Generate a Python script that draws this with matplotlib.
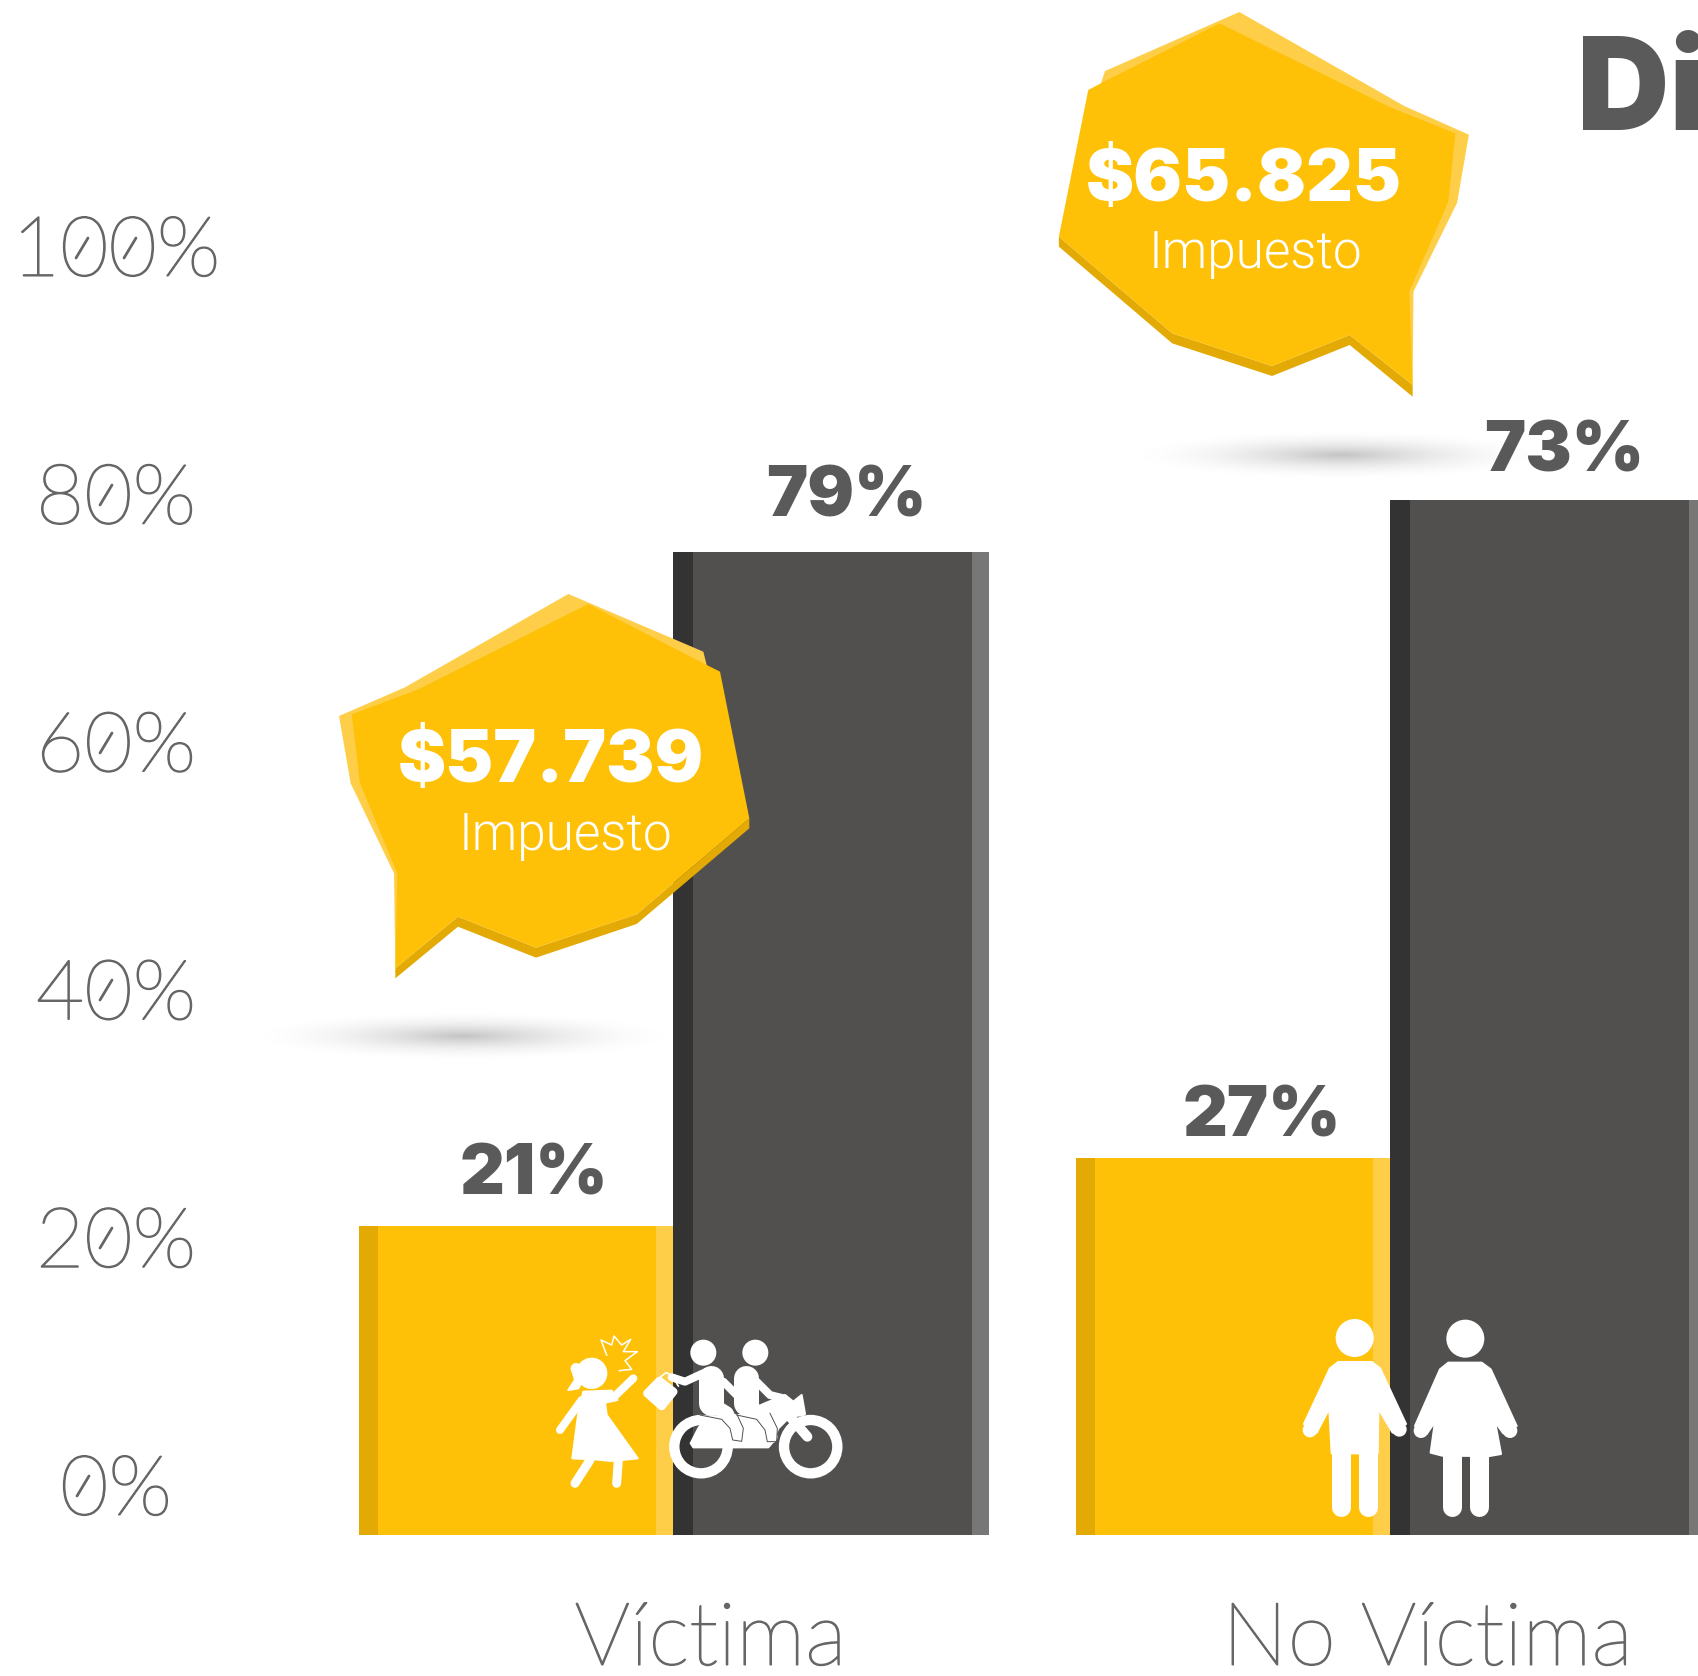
import numpy as np
import matplotlib
matplotlib.use('Agg')
import matplotlib.pyplot as plt
import matplotlib.patheffects as pe
from matplotlib.patches import Polygon, Circle
from matplotlib.transforms import ScaledTranslation

# data
categories = ['Víctima', 'No Víctima']
value_labels_yellow = ['21%', '27%']
value_labels_dark = ['79%', '73%']
# drawn bar heights, read against the axis (the picture does not draw them to scale)
heights_yellow = [24.9, 30.4]
heights_dark = [79.3, 83.5]
y_ticks = [0, 20, 40, 60, 80, 100]
y_tick_labels = ['0%', '20%', '40%', '60%', '80%', '100%']
bubble_values = ['$57.739', '$65.825']
bubble_label = 'Impuesto'
title_part = 'Di'

W, H = 1698, 1676
DPI = 100
px = 72.0 / DPI

YELLOW = '#FEC107'
YELLOW_D = '#E3A905'
YELLOW_L = '#FFCE49'
DARK = '#51504E'
DARK_D = '#333333'
DARK_L = '#777777'
TEXT = '#5A5A5A'
THIN = '#666666'

THIN_FONT = ['Lato', 'DejaVu Sans']
HEAVY_FONT = ['Inter', 'Lato', 'DejaVu Sans']
LIGHT_FONT = ['Roboto', 'DejaVu Sans']

thin_fx = [pe.withStroke(linewidth=1.1, foreground=THIN)]

fig = plt.figure(figsize=(W / DPI, H / DPI), dpi=DPI, facecolor='white')
ax = fig.add_axes([0, 0, 1, 1])

# axes span the whole figure, so the limits set the scale
base_px = 1535.0
unit_y = 12.39
unit_x = 717.0
zero_x = 672.5
ax.set_xlim(-zero_x / unit_x, (W - zero_x) / unit_x)
ax.set_ylim(-(H - base_px) / unit_y, base_px / unit_y)
for s in ax.spines.values():
    s.set_visible(False)
ax.patch.set_visible(False)

x = np.arange(len(categories))
bw = 314 / unit_x
bw2 = 316 / unit_x
sl = 19 / unit_x
sr = 17 / unit_x

ax.bar(x - bw, heights_yellow, bw, align='edge', color=YELLOW, zorder=2)
ax.bar(x - bw, heights_yellow, sl, align='edge', color=YELLOW_D, zorder=3)
ax.bar(x - sr, heights_yellow, sr, align='edge', color=YELLOW_L, zorder=3)
ax.bar(x, heights_dark, bw2, align='edge', color=DARK, zorder=2)
ax.bar(x, heights_dark, 20 / unit_x, align='edge', color=DARK_D, zorder=3)
ax.bar(x + bw2 - sr, heights_dark, sr, align='edge', color=DARK_L, zorder=3)

# value labels
dx_yellow = [18, 29]
dy_yellow = [50, 40]
dx_dark = [16, 17]
dy_dark = [54, 47]
for i in range(2):
    ax.annotate(value_labels_yellow[i], (x[i] - bw / 2, heights_yellow[i]),
                xytext=(dx_yellow[i] * px, dy_yellow[i] * px), textcoords='offset points',
                ha='center', va='center', fontsize=50, fontweight=900,
                family=HEAVY_FONT, color=TEXT, zorder=5)
    ax.annotate(value_labels_dark[i], (x[i] + bw2 / 2, heights_dark[i]),
                xytext=(dx_dark[i] * px, dy_dark[i] * px), textcoords='offset points',
                ha='center', va='center', fontsize=50, fontweight=900,
                family=HEAVY_FONT, color=TEXT, zorder=5)

# y axis labels sit above their tick position
ax.set_yticks(y_ticks)
ax.set_yticklabels(y_tick_labels, fontsize=60, fontweight=100, family=THIN_FONT, color=THIN, ha='center')
ax.tick_params(axis='y', length=0, pad=-116 * px)
ax.set_xticks(x)
ax.set_xticklabels(categories, fontsize=63, fontweight=100, family=THIN_FONT, color=THIN, va='center')
ax.tick_params(axis='x', length=0, pad=-35 * px)
for lab in ax.get_yticklabels():
    lab.set_transform(lab.get_transform() + ScaledTranslation(0, 50 / DPI, fig.dpi_scale_trans))
    lab.set_path_effects(thin_fx)
for lab in ax.get_xticklabels():
    lab.set_transform(lab.get_transform() + ScaledTranslation(38 / DPI, 0, fig.dpi_scale_trans))
    lab.set_path_effects(thin_fx)

# overlay in pixels for the infographic decoration
ov = fig.add_axes([0, 0, 1, 1])
ov.set_xlim(0, W)
ov.set_ylim(H, 0)
ov.axis('off')


def pts(p, ox, oy, sx=3.0, sy=3.0):
    return [(ox + a / sx, oy + b / sy) for a, b in p]


def shadow(cx, cy, hw=230, hh=27):
    gx, gy = np.meshgrid(np.linspace(-1, 1, 300), np.linspace(-1, 1, 60))
    r = np.sqrt(gx ** 2 + gy ** 2)
    img = np.zeros(r.shape + (4,))
    img[..., 3] = 0.24 * np.clip(1 - r, 0, 1) ** 2
    ov.imshow(img, extent=(cx - hw, cx + hw, cy + hh, cy - hh), aspect='auto', zorder=1, interpolation='bilinear')


shadow(463, 1036)
shadow(1341, 455)
ov.set_xlim(0, W)
ov.set_ylim(H, 0)


def poly(p, color, z=5, lw=0):
    ov.add_patch(Polygon(p, closed=True, facecolor=color, edgecolor=color if lw else 'none',
                         linewidth=lw, joinstyle='round', zorder=z))


# bubble 1
o1 = (320, 580)
poly(pts([(745, 42), (1150, 215), (1160, 255), (1000, 500), (400, 800), (226, 1165), (222, 880), (92, 610), (57, 408), (255, 322)], *o1), YELLOW_L)
poly(pts([(1288, 715), (1288, 745), (950, 1032), (648, 1133), (414, 1040), (226, 1195), (226, 1165), (414, 1010), (648, 1103), (950, 1003)], *o1), YELLOW_D)
poly(pts([(805, 72), (1160, 255), (1200, 275), (1288, 715), (950, 1003), (648, 1103), (414, 1010), (226, 1165),
          (232, 880), (120, 610), (95, 403), (295, 328)], *o1), YELLOW, z=6)

# bubble 2
o2 = (1040, 0)
poly(pts([(475, 36), (868, 318), (1022, 404), (994, 608), (890, 875), (888, 1155), (500, 600), (145, 250), (155, 213)],
         *o2, sx=2.383), YELLOW_L)
poly(pts([(45, 710), (45, 740), (315, 1030), (553, 1128), (738, 1035), (888, 1190), (888, 1155), (738, 1005), (553, 1098), (315, 1000)],
         *o2, sx=2.383), YELLOW_D)
poly(pts([(428, 70), (835, 322), (990, 400), (973, 605), (880, 875), (888, 1155), (738, 1005), (553, 1098), (315, 1000),
          (45, 710), (115, 270), (145, 250)], *o2, sx=2.383), YELLOW, z=6)

ov.text(551, 763, bubble_values[0], color='white', fontsize=52, fontweight=900, family=HEAVY_FONT,
        ha='center', va='center', zorder=7)
ov.text(566, 850, bubble_label, color='white', fontsize=37, fontweight=300, family=LIGHT_FONT,
        ha='center', va='baseline', zorder=7)
ov.text(1244, 182, bubble_values[1], color='white', fontsize=52, fontweight=900, family=HEAVY_FONT,
        ha='center', va='center', zorder=7)
ov.text(1256, 268, bubble_label, color='white', fontsize=37, fontweight=300, family=LIGHT_FONT,
        ha='center', va='baseline', zorder=7)

# title is cut by the edge of the picture
ov.text(1577, 130, title_part, color=TEXT, fontsize=92, fontweight=900, family=HEAVY_FONT,
        ha='left', va='baseline', zorder=7)

# slashes in the zeros of the tick labels
for cx, cy in [(82, 248), (130, 248), (106, 495), (106, 743), (106, 990), (106, 1238), (83, 1486)]:
    ov.plot([cx - 6, cx + 6], [cy + 10, cy - 10], color=THIN, lw=2, solid_capstyle='round', zorder=7)


def white_line(p, lw, ox, oy):
    q = np.array(pts(p, ox, oy))
    ov.plot(q[:, 0], q[:, 1], color='white', lw=lw * px, solid_capstyle='round', solid_joinstyle='round', zorder=8)


def white_poly(p, ox, oy, lw=1.5):
    ov.add_patch(Polygon(pts(p, ox, oy), closed=True, facecolor='white', edgecolor='white',
                         linewidth=lw, joinstyle='round', zorder=8))


def circle(c, r, ox, oy):
    cc = pts([c], ox, oy)[0]
    ov.add_patch(Circle(cc, r / 3.0, facecolor='white', edgecolor='none', zorder=8))


# victim and motorcycle icon
ic = (540, 1300)
circle((155, 220), 47, *ic)
circle((108, 205), 16, *ic)
white_poly([(95, 205), (122, 195), (130, 235), (115, 265), (85, 270), (105, 240)], *ic)
white_poly([(130, 275), (215, 272), (232, 300), (195, 308), (200, 345), (293, 475),
            (215, 483), (165, 478), (97, 475), (115, 340)], *ic)
white_line([(225, 288), (280, 235)], 8, *ic)
white_line([(125, 300), (60, 390)], 8, *ic)
white_line([(150, 480), (105, 550)], 9, *ic)
white_line([(235, 480), (230, 550)], 9, *ic)
sp = np.array(pts([(200, 165), (183, 120), (215, 135), (222, 108), (245, 135), (272, 118), (250, 155), (292, 155),
                   (255, 182), (275, 208), (238, 212)], *ic))
ov.plot(sp[:, 0], sp[:, 1], color='white', lw=1.1, zorder=8)

for wc in [(483, 440), (812, 440)]:
    q = pts([wc], *ic)[0]
    ov.add_patch(Circle(q, 80 / 3.0, facecolor='none', edgecolor='white', linewidth=31 / 3.0 * px, zorder=8))
white_poly([(475, 385), (452, 430), (460, 442), (685, 442), (695, 430), (715, 385), (750, 350), (790, 345),
            (795, 342), (785, 285), (760, 305), (735, 285), (670, 312), (600, 345), (500, 350)], *ic)
white_line([(750, 350), (802, 410)], 10, *ic)
white_poly([(358, 243), (400, 275), (365, 318), (322, 280)], *ic, lw=6)
hd = np.array(pts([(360, 232), (378, 218), (395, 225), (415, 258)], *ic))
ov.plot(hd[:, 0], hd[:, 1], color='white', lw=1.2, zorder=8)
circle((490, 158), 39, *ic)
circle((646, 158), 39, *ic)
# second rider
white_line([(618, 235), (618, 310)], 25, *ic)
white_line([(625, 315), (665, 345), (692, 410)], 14, *ic)
white_line([(650, 245), (690, 285), (730, 295)], 8, *ic)
# first rider
white_line([(513, 235), (513, 310)], 25, *ic)
white_line([(520, 315), (560, 340), (592, 408)], 14, *ic)
white_line([(395, 232), (435, 245), (500, 215)], 8, *ic)
white_line([(550, 245), (590, 285)], 8, *ic)
for line in [[(480, 345), (545, 358), (570, 385), (578, 420), (605, 424), (610, 385), (585, 330)],
             [(590, 345), (650, 358), (675, 390), (682, 425), (710, 425), (712, 385), (690, 340)]]:
    q = np.array(pts(line, *ic))
    ov.plot(q[:, 0], q[:, 1], color=DARK, lw=0.7, zorder=9)

# man and woman icon
ip = (1280, 1300)
circle((224, 114), 57, *ip)
white_poly([(175, 186), (275, 186), (300, 205), (378, 372), (338, 398), (295, 325), (293, 460), (155, 460), (148, 325),
            (110, 398), (72, 372), (150, 205)], *ip)
circle((358, 388), 22, *ip)
circle((90, 390), 22, *ip)
white_line([(184, 440), (184, 620)], 19, *ip)
white_line([(265, 460), (265, 620)], 19, *ip)
circle((556, 116), 57, *ip)
white_poly([(505, 188), (605, 188), (632, 208), (710, 378), (670, 400), (645, 365), (663, 462), (628, 468), (487, 467),
            (452, 458), (465, 365), (440, 402), (405, 378), (480, 208)], *ip)
circle((690, 392), 22, *ip)
circle((423, 392), 22, *ip)
white_line([(516, 465), (516, 622)], 19, *ip)
white_line([(598, 465), (598, 622)], 19, *ip)

fig.savefig('out.png', dpi=DPI, facecolor='white')
